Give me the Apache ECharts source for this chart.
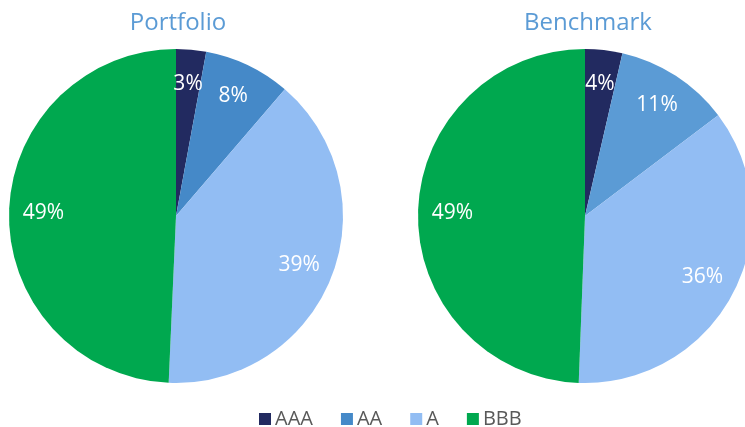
<!DOCTYPE html>
<html>
<head>
<meta charset="utf-8">
<script src="https://cdn.jsdelivr.net/npm/echarts@6/dist/echarts.min.js"></script>
<style>html,body{margin:0;padding:0;background:#fff;}#c{width:745px;height:427px;}</style>
</head>
<body>
<div id="c"></div>
<script>
const categories = ['AAA', 'AA', 'A', 'BBB'];
const portfolioValues = [2.9, 8.4, 39.4, 49.3];
const benchmarkValues = [3.6, 11.1, 35.9, 49.4];
const chartTitles = ['Portfolio', 'Benchmark'];
const portfolioColors = ['#222a60', '#4589c8', '#92bdf3', '#00a84f'];
const benchmarkColors = ['#222a60', '#5b9bd5', '#92bdf3', '#00a84f'];

const FONT = 'Open Sans';
const chart = echarts.init(document.getElementById('c'), null, {renderer: 'canvas'});

function mkData(vals, cols, transparent) {
  return categories.map((n, i) => ({
    name: n, value: vals[i],
    itemStyle: {color: transparent ? 'rgba(0,0,0,0)' : cols[i]}
  }));
}
function mainSeries(vals, cols, center) {
  return {
    type: 'pie', center: center, radius: [0, 167], startAngle: 90, clockwise: true,
    data: mkData(vals, cols, false), label: {show: false}, labelLine: {show: false},
    emphasis: {disabled: true}, silent: true, animation: false
  };
}
function labelSeries(vals, cols, center) {
  return {
    type: 'pie', center: center, radius: [92, 167], startAngle: 90, clockwise: true,
    data: mkData(vals, cols, true),
    label: {show: true, position: 'inside', color: '#ffffff', fontFamily: FONT, fontSize: 21,
      padding: [10, 0, 0, 0],
      formatter: p => Math.round(p.value) + '%'},
    labelLine: {show: false}, emphasis: {disabled: true}, silent: true, animation: false
  };
}
const c1 = [176, 216], c2 = [585, 216];
chart.setOption({
  animation: false,
  title: [
    {text: chartTitles[0], left: 173, top: 6, textAlign: 'center',
      textStyle: {color: '#5b9bd5', fontFamily: FONT, fontSize: 24, fontWeight: 'normal'}},
    {text: chartTitles[1], left: 583, top: 6, textAlign: 'center',
      textStyle: {color: '#5b9bd5', fontFamily: FONT, fontSize: 24, fontWeight: 'normal'}}
  ],
  legend: {
    data: categories, left: 259, top: 409, padding: 0, itemWidth: 12, itemHeight: 12, itemGap: 28,
    icon: 'rect', selectedMode: false,
    textStyle: {color: '#595959', fontFamily: FONT, fontSize: 20, lineHeight: 20, padding: [0, 0, 0, -1]}
  },
  series: [
    mainSeries(portfolioValues, portfolioColors, c1),
    mainSeries(benchmarkValues, benchmarkColors, c2),
    labelSeries(portfolioValues, portfolioColors, c1),
    labelSeries(benchmarkValues, benchmarkColors, c2)
  ]
});
</script>
</body>
</html>
